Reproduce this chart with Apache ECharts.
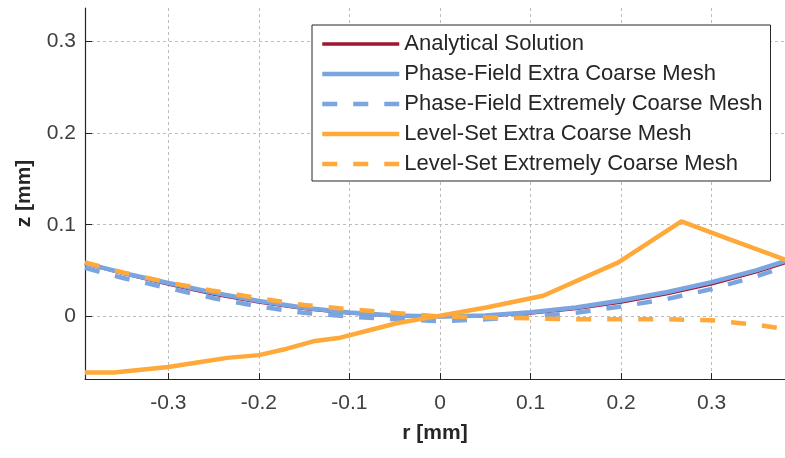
<!DOCTYPE html>
<html>
<head>
<meta charset="utf-8">
<script src="https://cdn.jsdelivr.net/npm/echarts@6/dist/echarts.min.js"></script>
<style>html,body{margin:0;padding:0;background:#fff}#c{width:785px;height:458px}</style>
</head>
<body>
<div id="c"></div>
<script>
const seriesNames = ['Analytical Solution','Phase-Field Extra Coarse Mesh','Phase-Field Extremely Coarse Mesh','Level-Set Extra Coarse Mesh','Level-Set Extremely Coarse Mesh'];
const rGrid = [-0.392,-0.35,-0.3,-0.25,-0.2,-0.15,-0.1,-0.05,0,0.05,0.1,0.15,0.2,0.25,0.3,0.35,0.392];
const zAnalytical = [0.058,0.047,0.0355,0.0245,0.0157,0.0088,0.0039,0.001,0,0.001,0.0039,0.0088,0.0157,0.0247,0.0357,0.049,0.062];
const zPFExtra = [0.058,0.0475,0.0365,0.026,0.017,0.0095,0.0045,0.0012,0,0.0012,0.0048,0.0098,0.0175,0.0265,0.0375,0.0505,0.064];
const zPFExtremely = [0.053,0.042,0.031,0.020,0.011,0.004,0.0,-0.003,-0.005,-0.003,0.0,0.004,0.011,0.019,0.030,0.044,0.058];
const zLSExtremely = [0.059,0.048,0.037,0.028,0.020,0.0125,0.008,0.004,0.0,-0.001,-0.002,-0.003,-0.003,-0.003,-0.004,-0.009,-0.015];
const rLSExtra = [-0.392,-0.36,-0.3,-0.268,-0.235,-0.2,-0.169,-0.14,-0.11,-0.077,-0.048,0,0.051,0.114,0.197,0.2665,0.32,0.392];
const zLSExtra = [-0.061,-0.061,-0.055,-0.050,-0.045,-0.042,-0.035,-0.027,-0.023,-0.0146,-0.0073,0.001,0.0099,0.0227,0.059,0.1036,0.084,0.058];
const xTickLabels = ['-0.3','-0.2','-0.1','0','0.1','0.2','0.3'];
const yTickLabels = ['0','0.1','0.2','0.3'];

const pairs = (xs, ys) => xs.map((x, i) => [x, ys[i]]);
const FONT = "'Liberation Sans', Arial, Helvetica, sans-serif";
const RED = '#a2142f', BLUE = '#7aa5e0', ORANGE = '#ffa93a';
const DASH = [15, 16];

function fmt(v) {
  return (Math.round(v * 1000) / 1000).toString();
}

const chart = echarts.init(document.getElementById('c'), null, {renderer: 'canvas'});
chart.setOption({
  animation: false,
  backgroundColor: '#fff',
  grid: {left: 85, top: 8, right: 0, bottom: 79, containLabel: false},
  xAxis: {
    type: 'value', min: -0.392, max: 0.381, splitNumber: 8,
    name: 'r [mm]', nameLocation: 'middle', nameGap: 44,
    nameTextStyle: {fontFamily: FONT, fontSize: 21, fontWeight: 'bold', color: '#262626'},
    axisLine: {show: true, onZero: false, lineStyle: {color: '#262626', width: 1.2}},
    axisTick: {show: true, inside: true, length: 6, lineStyle: {color: '#262626'}},
    axisLabel: {
      fontFamily: FONT, fontSize: 21, color: '#404040', margin: 14,
      showMinLabel: false, showMaxLabel: false,
      formatter: v => { const s = fmt(v); return xTickLabels.includes(s) ? s : ''; }
    },
    splitLine: {show: true, showMinLine: false, showMaxLine: false, lineStyle: {color: '#bcbcbc', type: [3, 3], width: 1}}
  },
  yAxis: {
    type: 'value', min: -0.068, max: 0.336, splitNumber: 4,
    name: 'z [mm]', nameLocation: 'middle', nameGap: 50,
    nameTextStyle: {fontFamily: FONT, fontSize: 21, fontWeight: 'bold', color: '#262626'},
    axisLine: {show: true, onZero: false, lineStyle: {color: '#262626', width: 1.2}},
    axisTick: {show: true, inside: true, length: 7, lineStyle: {color: '#262626'}},
    axisLabel: {
      fontFamily: FONT, fontSize: 21, color: '#404040', margin: 9,
      showMinLabel: false, showMaxLabel: false,
      formatter: v => { const s = fmt(v); return yTickLabels.includes(s) ? s : ''; }
    },
    splitLine: {show: true, showMinLine: false, showMaxLine: false, lineStyle: {color: '#bcbcbc', type: [3, 3], width: 1}}
  },
  legend: {
    orient: 'vertical', left: 312, top: 25,
    padding: [8, 8, 6, 8], itemGap: 8, itemWidth: 77, itemHeight: 22,
    backgroundColor: '#fff', borderColor: '#262626', borderWidth: 1, borderRadius: 0,
    itemStyle: {color: 'rgba(0,0,0,0)', borderWidth: 0, opacity: 0},
    lineStyle: {width: 'inherit', type: 'inherit'},
    textStyle: {fontFamily: FONT, fontSize: 22, color: '#262626', padding: [0, 0, 0, 0]},
    data: seriesNames
  },
  series: [
    {name: seriesNames[0], type: 'line', data: pairs(rGrid, zAnalytical), symbol: 'none', z: 2,
     lineStyle: {color: RED, width: 3.5}, itemStyle: {color: RED}},
    {name: seriesNames[1], type: 'line', data: pairs(rGrid, zPFExtra), symbol: 'none', z: 3,
     lineStyle: {color: BLUE, width: 4.5}, itemStyle: {color: BLUE}},
    {name: seriesNames[2], type: 'line', data: pairs(rGrid, zPFExtremely), symbol: 'none', z: 4,
     lineStyle: {color: BLUE, width: 4.5, type: DASH}, itemStyle: {color: BLUE}},
    {name: seriesNames[3], type: 'line', data: pairs(rLSExtra, zLSExtra), symbol: 'none', z: 5,
     lineStyle: {color: ORANGE, width: 4.5}, itemStyle: {color: ORANGE}},
    {name: seriesNames[4], type: 'line', data: pairs(rGrid, zLSExtremely), symbol: 'none', z: 6,
     lineStyle: {color: ORANGE, width: 4.5, type: DASH}, itemStyle: {color: ORANGE}}
  ]
});
</script>
</body>
</html>
